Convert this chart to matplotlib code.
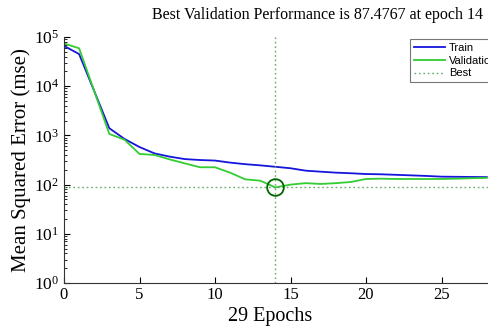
import matplotlib
matplotlib.use("Agg")
import matplotlib.pyplot as plt
from matplotlib.ticker import LogLocator, FixedLocator, NullFormatter

plt.rcParams["font.family"] = "Liberation Serif"
plt.rcParams["mathtext.fontset"] = "stix"

# training record (mse per epoch)
epochs = list(range(29))
train = [66000, 45000, 8000, 1400, 850, 580, 430, 370, 330, 316,
         308, 280, 260, 246, 230, 215, 192, 183, 175, 170,
         164, 162, 158, 154, 150, 145, 144, 143, 142]
valid = [74000, 59000, 8000, 1070, 820, 420, 400, 325, 270, 225,
         225, 175, 128, 120, 87.4767, 100, 107, 103, 107, 113,
         130, 132, 130, 130, 130, 130, 132, 135, 137]
best_epoch = 14
best_perf = 87.4767

W, H = 488, 328
fig = plt.figure(figsize=(W / 100, H / 100), dpi=100)
px_per_epoch = 15.1
ax = fig.add_axes([64 / W, 1 - 283 / H, 29 * px_per_epoch / W, (283 - 37) / H])

ax.semilogy(epochs, train, color="#1515dd", lw=1.3, label="Train")
ax.semilogy(epochs, valid, color="#33cc33", lw=1.3, label="Validation")
ax.axhline(best_perf, color="#66aa66", lw=1, ls=(0, (1.2, 2)), label="Best")
ax.axvline(best_epoch, color="#66aa66", lw=1, ls=(0, (1.2, 2)))
ax.plot(best_epoch, best_perf, "o", mfc="none", mec="#006600", ms=12, mew=1.3)

ax.set_xlim(0, 29)
ax.set_ylim(1, 1e5)
ax.set_xticks([0, 5, 10, 15, 20, 25])
ax.yaxis.set_major_locator(FixedLocator([1, 10, 100, 1e3, 1e4, 1e5]))
ax.yaxis.set_minor_locator(LogLocator(base=10, subs=range(2, 10), numticks=20))
ax.yaxis.set_minor_formatter(NullFormatter())
ax.tick_params(which="both", direction="in", top=False, right=False, labelsize=12.5)
ax.tick_params(axis="x", labelsize=12, pad=3)
ax.tick_params(which="major", length=4)
ax.tick_params(which="minor", length=2)
ax.spines["top"].set_visible(False)
for s in ("left", "bottom"):
    ax.spines[s].set_color("#333333")

ax.set_ylabel("Mean Squared Error (mse)", fontsize=15, labelpad=2)
fig.text(270 / W, 1 - 317 / H, "29 Epochs", ha="center", va="center", fontsize=14.5)
fig.text(318 / W, 1 - 15 / H, "Best Validation Performance is 87.4767 at epoch 14",
         ha="center", va="center", fontsize=11.5)

# legend sits in the upper right corner, running past the figure edge
leg = ax.legend(loc="upper left", bbox_to_anchor=(410 / W, 1 - 39 / H),
                bbox_transform=fig.transFigure, prop={"family": "Liberation Sans", "size": 8},
                frameon=True, fancybox=False, borderpad=0.35, labelspacing=0.25,
                handlelength=2.8, handletextpad=0.35, borderaxespad=0)
leg.get_frame().set_edgecolor("#555555")
leg.get_frame().set_linewidth(0.8)

fig.savefig("out.png", dpi=100)
